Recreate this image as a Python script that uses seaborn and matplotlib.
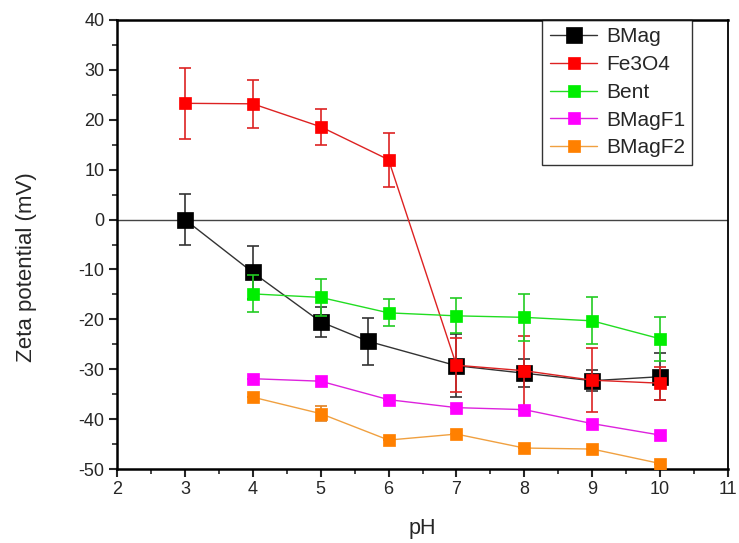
import numpy as np
import pandas as pd
import matplotlib
matplotlib.use("Agg")
import matplotlib.pyplot as plt
import seaborn as sns
from matplotlib.ticker import MultipleLocator

# ---- data ----
series_names = ["BMag", "Fe3O4", "Bent", "BMagF1", "BMagF2"]

bmag_ph = [3, 4, 5, 5.7, 7, 8, 9, 10]
bmag_zeta = [0.0, -10.6, -20.5, -24.4, -29.3, -30.8, -32.3, -31.5]
bmag_err = [5.2, 5.3, 3.0, 4.7, 6.3, 2.8, 2.1, 4.7]

fe_ph = [3, 4, 5, 6, 7, 8, 9, 10]
fe_zeta = [23.3, 23.2, 18.6, 12.0, -29.2, -30.3, -32.2, -32.8]
fe_err = [7.1, 4.8, 3.6, 5.4, 5.4, 7.0, 6.4, 3.3]

bent_ph = [4, 5, 6, 7, 8, 9, 10]
bent_zeta = [-14.9, -15.6, -18.7, -19.3, -19.6, -20.3, -23.9]
bent_err = [3.7, 3.7, 2.7, 3.5, 4.7, 4.7, 4.4]

f1_ph = [4, 5, 6, 7, 8, 9, 10]
f1_zeta = [-31.9, -32.4, -36.1, -37.7, -38.1, -40.9, -43.2]
f1_err = [0.0, 0.0, 0.0, 0.0, 0.0, 0.0, 0.0]

f2_ph = [4, 5, 6, 7, 8, 9, 10]
f2_zeta = [-35.6, -38.9, -44.2, -43.0, -45.8, -46.0, -48.9]
f2_err = [0.0, 1.5, 0.0, 0.0, 0.0, 0.0, 0.0]

x_ticks = [2, 3, 4, 5, 6, 7, 8, 9, 10, 11]
y_ticks = [-50, -40, -30, -20, -10, 0, 10, 20, 30, 40]

colors = {"BMag": "#000000", "Fe3O4": "#ff0000", "Bent": "#00ee00",
          "BMagF1": "#ff00ff", "BMagF2": "#ff8000"}
line_colors = {"BMag": "#333333", "Fe3O4": "#dd2222", "Bent": "#22dd22",
               "BMagF1": "#dd22dd", "BMagF2": "#f0a040"}
err_colors = {"BMag": "#333333", "Fe3O4": "#dd2222", "Bent": "#22cc22",
              "BMagF1": "#dd22dd", "BMagF2": "#e08020"}
msizes = {"BMag": 12, "Fe3O4": 8, "Bent": 8, "BMagF1": 8, "BMagF2": 8}

frames = []
for name, xs, ys, es in [("BMag", bmag_ph, bmag_zeta, bmag_err),
                         ("Fe3O4", fe_ph, fe_zeta, fe_err),
                         ("Bent", bent_ph, bent_zeta, bent_err),
                         ("BMagF1", f1_ph, f1_zeta, f1_err),
                         ("BMagF2", f2_ph, f2_zeta, f2_err)]:
    frames.append(pd.DataFrame({"pH": xs, "zeta": ys, "err": es, "sample": name}))
df = pd.concat(frames, ignore_index=True)

sns.set_style("ticks")
plt.rcParams["font.family"] = ["Liberation Sans", "DejaVu Sans"]
plt.rcParams["axes.unicode_minus"] = False

fig = plt.figure(figsize=(7.39, 5.43), dpi=100)
ax = fig.add_axes([117 / 739, 1 - 469 / 543, (728 - 117) / 739, (469 - 20) / 543])

ax.axhline(0, color="#444444", lw=1.0, zorder=1)

for i, name in enumerate(series_names):
    sub = df[df["sample"] == name]
    ax.errorbar(sub["pH"], sub["zeta"], yerr=sub["err"], fmt="none",
                ecolor=err_colors[name], elinewidth=1.2, capsize=4, capthick=1.2,
                zorder=2 + i)
    sns.lineplot(data=sub, x="pH", y="zeta", ax=ax, color=line_colors[name],
                 lw=1.0, marker="s", markersize=msizes[name],
                 markerfacecolor=colors[name], markeredgecolor=colors[name],
                 markeredgewidth=0.5, label=name, zorder=2.5 + i, errorbar=None)

ax.set_xlim(2, 11)
ax.set_ylim(-50, 40)
ax.set_xticks(x_ticks)
ax.set_yticks(y_ticks)
ax.xaxis.set_minor_locator(MultipleLocator(0.5))
ax.yaxis.set_minor_locator(MultipleLocator(5))
ax.tick_params(axis="both", which="major", direction="out", length=6, width=1.5,
               labelsize=13, top=False, right=False, pad=3)
ax.tick_params(axis="both", which="minor", direction="out", length=3.5, width=1.2,
               top=False, right=False)
for side in ["left", "bottom", "top"]:
    ax.spines[side].set_linewidth(1.8)
ax.spines["right"].set_linewidth(1.3)
for s in ax.spines.values():
    s.set_visible(True)
    s.set_color("black")

ax.set_xlabel("pH", fontsize=15.5)
ax.xaxis.set_label_coords(0.5, -(518 - 469) / 449)
ax.set_ylabel("Zeta potential (mV)", fontsize=16)
ax.yaxis.set_label_coords(-(117 - 37) / 611, (469 - 267) / 449)

leg = ax.legend(loc="upper left", bbox_to_anchor=(0.696, 1.0), fontsize=15,
                frameon=True, fancybox=False, edgecolor="black", borderpad=0.35,
                labelspacing=0.42, handlelength=2.3, handletextpad=0.4,
                borderaxespad=0.0)
leg.get_frame().set_linewidth(1.0)

fig.savefig("out.png", dpi=100)
